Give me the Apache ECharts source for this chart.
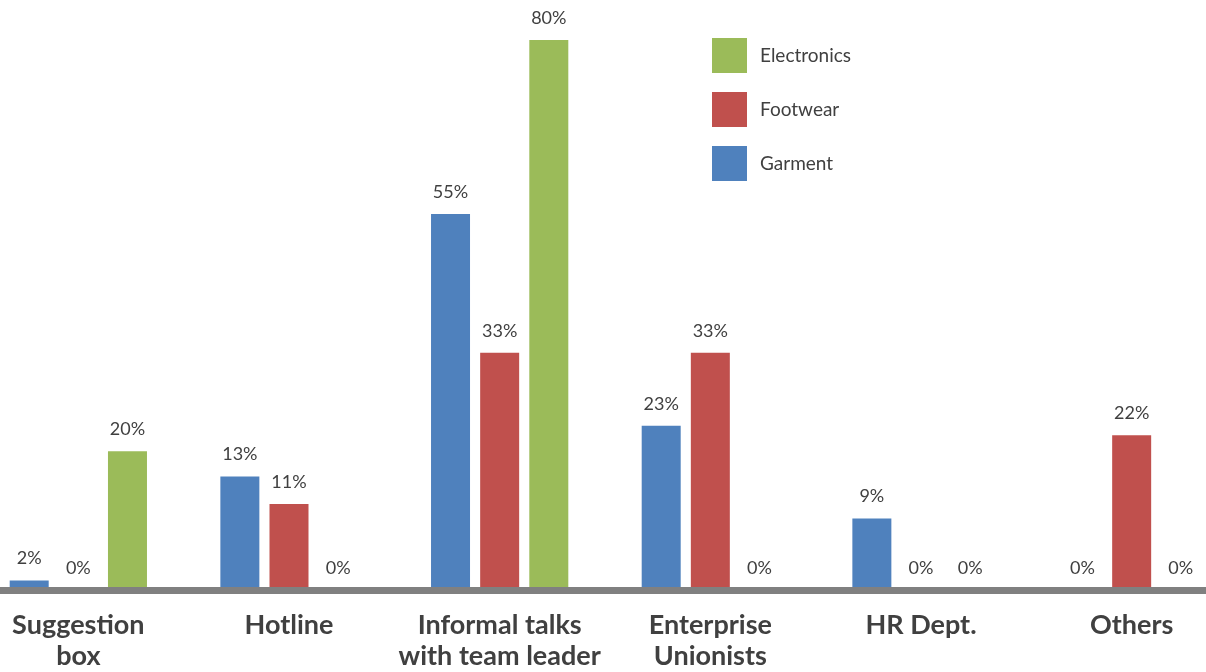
<!DOCTYPE html>
<html>
<head>
<meta charset="utf-8">
<script src="https://cdn.jsdelivr.net/npm/echarts@6/dist/echarts.min.js"></script>
<style>
html,body{margin:0;padding:0;background:#fff;overflow:hidden;width:1206px;height:672px;}
#chart{width:1264px;height:672px;margin-left:-27px;}
</style>
</head>
<body>
<div id="chart"></div>
<script>
var categories = ['Suggestion\nbox', 'Hotline', 'Informal talks\nwith team leader', 'Enterprise\nUnionists', 'HR Dept.', 'Others'];
// bar heights as drawn in the reference (in % units)
var garment = [1.4, 16.5, 54.7, 23.9, 10.4, 0];
var footwear = [0, 12.5, 34.5, 34.5, 0, 22.5];
var electronics = [20.2, 0, 80, 0, 0, 0];
// data label texts as printed in the reference
var garmentLabels = ['2%', '13%', '55%', '23%', '9%', '0%'];
var footwearLabels = ['0%', '11%', '33%', '33%', '0%', '22%'];
var electronicsLabels = ['20%', '0%', '80%', '0%', '0%', '0%'];
var legendOrder = ['Electronics', 'Footwear', 'Garment'];

var FONT = 'Lato';
var OFFSET = 27; // chart container is shifted left by this many px
var chart = echarts.init(document.getElementById('chart'));
function barSeries(name, data, labels, color) {
  return {
    name: name, type: 'bar', data: data, barWidth: 39, barGap: '26%',
    itemStyle: { color: color },
    label: { show: true, position: 'top', distance: 13,
             formatter: function (p) { return labels[p.dataIndex]; },
             color: '#404040', fontFamily: FONT, fontSize: 18 }
  };
}
chart.setOption({
  animation: false,
  backgroundColor: '#ffffff',
  textStyle: { fontFamily: FONT },
  grid: { left: 0, right: 0, top: 40, bottom: 76.5, containLabel: false },
  legend: {
    data: legendOrder, orient: 'vertical', left: 707 + OFFSET, top: 33,
    itemWidth: 35, itemHeight: 35, itemGap: 19, icon: 'rect',
    textStyle: { color: '#404040', fontSize: 19, fontFamily: FONT, padding: [0, 0, 0, 8] }
  },
  xAxis: {
    type: 'category', data: categories, z: 10,
    axisLine: { lineStyle: { color: '#808080', width: 7 } },
    axisTick: { show: false },
    axisLabel: { color: '#404040', fontWeight: 'bold', fontSize: 27, fontFamily: FONT,
                 lineHeight: 31, margin: 20, interval: 0 }
  },
  yAxis: { type: 'value', min: 0, max: 80, show: false, splitLine: { show: false } },
  series: [
    barSeries('Garment', garment, garmentLabels, '#4F81BD'),
    barSeries('Footwear', footwear, footwearLabels, '#C0504D'),
    barSeries('Electronics', electronics, electronicsLabels, '#9BBB59')
  ]
});
</script>
</body>
</html>
